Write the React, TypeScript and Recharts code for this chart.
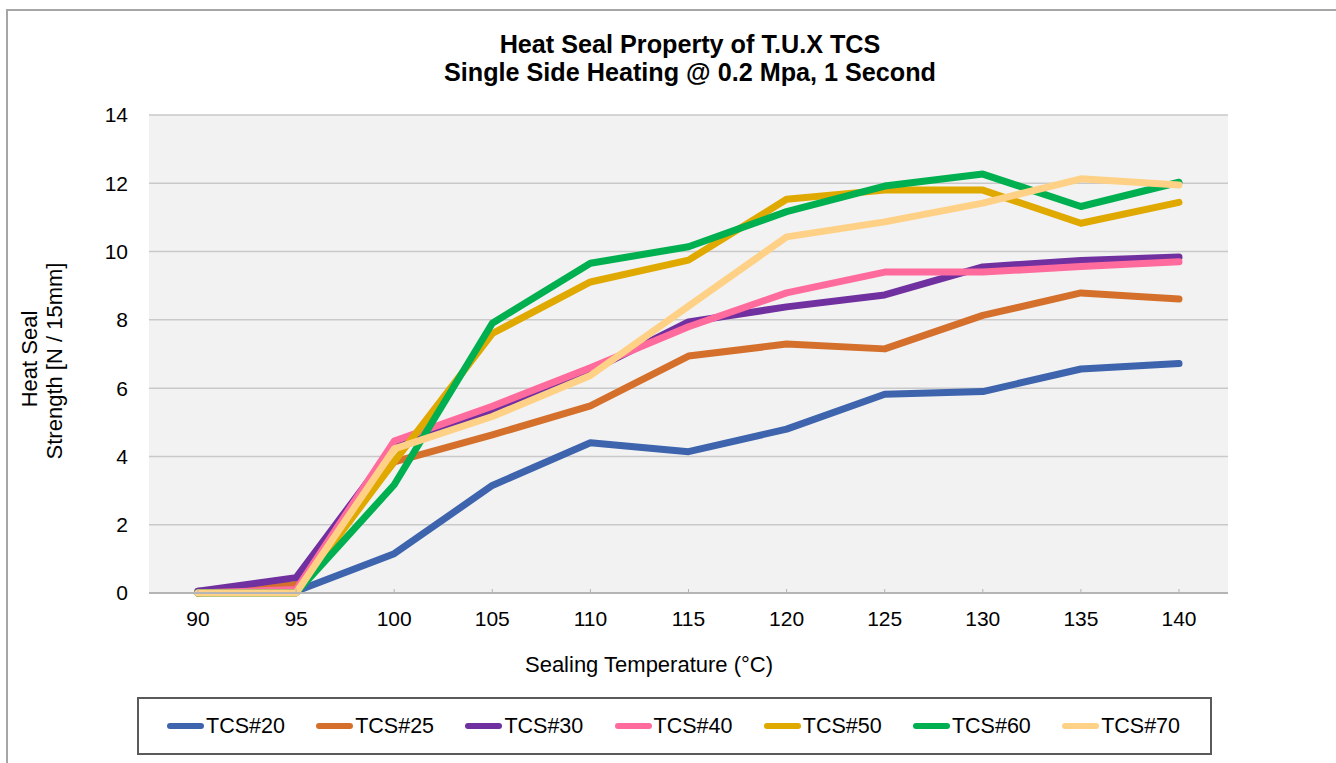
import React from 'react';
import { LineChart, Line, XAxis, YAxis, CartesianGrid, Legend } from 'recharts';

const temps = ['90', '95', '100', '105', '110', '115', '120', '125', '130', '135', '140'];
const yTicks = [0, 2, 4, 6, 8, 10, 12, 14];

const tcs20 = [0.05, 0.05, 1.15, 3.15, 4.4, 4.14, 4.8, 5.82, 5.9, 6.56, 6.72];
const tcs25 = [0, 0.25, 3.84, 4.63, 5.48, 6.94, 7.29, 7.15, 8.13, 8.79, 8.61];
const tcs30 = [0.05, 0.45, 4.3, 5.35, 6.5, 7.94, 8.38, 8.73, 9.55, 9.74, 9.84];
const tcs40 = [0, 0.1, 4.45, 5.47, 6.6, 7.8, 8.79, 9.4, 9.4, 9.56, 9.7];
const tcs50 = [0, 0, 3.85, 7.6, 9.11, 9.75, 11.53, 11.8, 11.8, 10.83, 11.44];
const tcs60 = [0, 0, 3.17, 7.9, 9.66, 10.14, 11.17, 11.92, 12.27, 11.32, 12.03];
const tcs70 = [0, 0, 4.22, 5.17, 6.37, 8.4, 10.43, 10.87, 11.42, 12.13, 11.95];

const series = [
  { key: 'TCS#20', values: tcs20, color: '#3d64ad' },
  { key: 'TCS#25', values: tcs25, color: '#d4702c' },
  { key: 'TCS#30', values: tcs30, color: '#7030a0' },
  { key: 'TCS#40', values: tcs40, color: '#ff6b9d' },
  { key: 'TCS#50', values: tcs50, color: '#e0a900' },
  { key: 'TCS#60', values: tcs60, color: '#00b050' },
  { key: 'TCS#70', values: tcs70, color: '#ffd186' },
];

const data = temps.map((t, i) => {
  const row: Record<string, string | number> = { temp: t };
  series.forEach((s) => {
    row[s.key] = s.values[i];
  });
  return row;
});

const FONT = '"Liberation Sans", Arial, sans-serif';

const LegendBox = () => (
  <div
    style={{
      boxSizing: 'border-box',
      width: 1075,
      height: 58,
      border: '2px solid #5a5a5a',
      background: '#fff',
      display: 'flex',
      alignItems: 'center',
      paddingLeft: 28,
      fontFamily: FONT,
      fontSize: 21.5,
      color: '#000',
    }}
  >
    {series.map((s) => (
      <div key={s.key} style={{ width: 149.2, display: 'flex', alignItems: 'center', flexShrink: 0 }}>
        <span
          style={{
            display: 'inline-block',
            width: 37,
            height: 6,
            borderRadius: 3,
            background: s.color,
            marginRight: 2,
          }}
        />
        <span>{s.key}</span>
      </div>
    ))}
  </div>
);

const App: React.FC = () => {
  return (
    <div
      style={{
        position: 'fixed',
        left: 0,
        top: 0,
        width: 1336,
        height: 763,
        overflow: 'hidden',
        background: '#fff',
      }}
    >
      {/* outer chart frame, runs off the right and bottom */}
      <div
        style={{
          position: 'absolute',
          left: 6,
          top: 9,
          width: 1400,
          height: 800,
          border: '2px solid #a6a6a6',
        }}
      />
      <div
        style={{
          position: 'absolute',
          left: 0,
          top: 30,
          width: 1380,
          textAlign: 'center',
          fontFamily: FONT,
          fontWeight: 'bold',
          fontSize: 25.2,
          lineHeight: '28px',
          color: '#000',
        }}
      >
        <div>Heat Seal Property of T.U.X TCS</div>
        <div>Single Side Heating @ 0.2 Mpa, 1 Second</div>
      </div>
      <div style={{ position: 'absolute', left: 0, top: 0 }}>
        <LineChart
          width={1336}
          height={763}
          data={data}
          margin={{ top: 115, right: 108, bottom: 120, left: 0 }}
          style={{ fontFamily: FONT }}
        >
          <CartesianGrid vertical={false} fill="#f2f2f2" stroke="#c9c9c9" strokeWidth={1.5} />
          <XAxis
            dataKey="temp"
            height={50}
            padding={{ left: 49, right: 49 }}
            axisLine={{ stroke: '#b5b5b5', strokeWidth: 2 }}
            tickLine={{ stroke: '#b5b5b5', strokeWidth: 1 }}
            tickSize={-4}
            tickMargin={22}
            tick={{ fill: '#000', fontSize: 21 }}
            interval={0}
            label={{
              content: () => (
                <text x={649} y={672} textAnchor="middle" fontSize={22} fill="#000">
                  Sealing Temperature (°C)
                </text>
              ),
            }}
          />
          <YAxis
            width={149}
            domain={[0, 14]}
            ticks={yTicks}
            axisLine={false}
            tickLine={false}
            tickMargin={15}
            tick={{ fill: '#000', fontSize: 21 }}
            label={{
              content: () => (
                <text transform="rotate(-90)" textAnchor="middle" fontSize={22} fill="#000">
                  <tspan x={-359} y={37}>Heat Seal</tspan>
                  <tspan x={-361} y={62}>Strength [N / 15mm]</tspan>
                </text>
              ),
            }}
          />
          <Legend
            layout="vertical"
            align="center"
            verticalAlign="middle"
            content={() => <LegendBox />}
            wrapperStyle={{ left: 137, top: 697, width: 1075, height: 58 }}
          />
          {series.map((s) => (
            <Line
              key={s.key}
              type="linear"
              dataKey={s.key}
              stroke={s.color}
              strokeWidth={7}
              strokeLinecap="round"
              strokeLinejoin="round"
              dot={false}
              activeDot={false}
              isAnimationActive={false}
            />
          ))}
        </LineChart>
      </div>
    </div>
  );
};

export default App;
